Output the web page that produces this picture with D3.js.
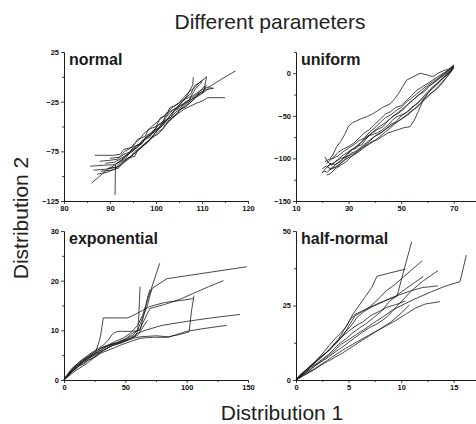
<!DOCTYPE html>
<html>
<head>
<meta charset="utf-8">
<script src="https://cdn.jsdelivr.net/npm/d3@7"></script>
<style>
  body { margin: 0; background: #fff; }
  svg { display: block; font-family: "Liberation Sans", Arial, sans-serif; }
</style>
</head>
<body>
<div id="chart"></div>
<script>
// panel names
const panelNames = ["normal", "uniform", "exponential", "half-normal"];

// axis ticks (major labelled, minor unlabelled)
const normalXTicks = [80, 90, 100, 110, 120];
const normalXMinor = [85, 95, 105, 115];
const normalYTicks = [25, -25, -75, -125];
const normalYMinor = [0, -50, -100];
const uniformXTicks = [10, 30, 50, 70];
const uniformXMinor = [20, 40, 60, 80];
const uniformYTicks = [0, -50, -100, -150];
const uniformYMinor = [25, -25, -75, -125];
const expXTicks = [0, 50, 100, 150];
const expXMinor = [25, 75, 125];
const expYTicks = [0, 10, 20, 30];
const expYMinor = [5, 15, 25];
const halfXTicks = [0, 5, 10, 15];
const halfXMinor = [2.5, 7.5, 12.5, 17.5];
const halfYTicks = [0, 25, 50];
const halfYMinor = [12.5, 37.5];

// quantile pairs, one array per simulated run
const normalLines = [
  [[86.0,-107],[88,-99],[89.5,-93],[91,-89],[92.5,-83],[94,-78],[95,-72],[96.5,-67],[98,-60],[99,-56],[100.5,-49],[102,-42],[103,-36],[104.5,-31],[106,-24],[107,-17],[108,-8],[108.1,-0.4]],
  [[91.1,-119],[91.2,-88],[92.6,-84],[93.4,-79],[95,-75],[95.8,-69],[97.2,-66],[98,-59],[99.6,-55],[100.2,-49],[101.5,-46],[102.2,-37],[103.8,-33],[105,-29],[106.2,-22],[107.6,-17],[108.4,-9],[110,-4],[111,0]],
  [[86.7,-79],[90.7,-79],[92.2,-78],[93,-73],[94.8,-71],[96,-63],[97.6,-60],[98.4,-53],[100,-50],[101,-41],[102.3,-39],[103,-31],[104.6,-28],[106,-23],[108,-19],[110,-13],[112,-9],[114,-3],[117.3,6]],
  [[85.7,-90],[88.5,-89],[91,-88.5],[92,-86],[93.6,-81],[94.6,-74],[96,-71],[97,-64],[98.6,-61],[99.4,-54],[101,-51],[101.8,-44],[103.2,-41],[104,-34],[105.4,-31],[106.4,-25],[107.6,-23],[109,-19],[110.6,-15],[111.5,-11],[112.5,-11.5]],
  [[86.4,-94],[89,-93],[91.5,-91],[92.8,-87],[94,-83],[95.2,-78],[96.4,-73],[97.4,-69],[98.4,-64],[99.6,-60],[100.6,-55],[101.6,-52],[102.6,-46],[103.6,-41],[104.8,-37],[106,-33],[107.2,-30],[108.6,-27],[110.2,-24],[111.2,-21],[115,-21]],
  [[87.8,-85],[90,-84],[91.6,-83],[93,-78],[94.2,-76],[95.2,-70],[96.8,-68],[97.6,-62],[99,-58],[100,-53],[101.2,-50],[102,-45],[103.4,-40],[104.4,-35],[105.6,-32],[106.8,-28],[108,-24],[109.2,-17],[110.4,-14],[111,0]],
  [[89.6,-92],[91.4,-91],[92.4,-86],[93.8,-82],[95.4,-80],[96,-74],[97,-70],[98.2,-66],[99,-61],[100.4,-58],[101.4,-53],[102,-48],[103,-44],[104.2,-39],[105.2,-33],[106.6,-30],[107.4,-26],[108.6,-21],[109.6,-16],[110.8,-13],[112.5,-11.5]],
  [[88,-95],[90.2,-94],[91.8,-92],[93.2,-85],[94.2,-81],[95.6,-76],[96.6,-71],[97.8,-66],[98.8,-63],[99.8,-56],[100.8,-52],[102,-46.5],[103,-43],[104,-39],[105,-35],[106,-29],[107,-26],[108,-22],[109,-20],[110.2,-16],[111,-8]],
  [[90,-82],[92,-81],[93.2,-75],[94.4,-72],[95.6,-66],[96.6,-62],[97.4,-57],[98.6,-52],[99.6,-48],[100.6,-44],[101.6,-40],[102.6,-35],[103.8,-30],[105,-26],[106.2,-20],[107.2,-15],[108.4,-11],[109.4,-6],[110.2,-3]],
  [[89,-87],[91,-86],[92.8,-81],[94,-77],[95,-74],[96.2,-70],[97.2,-65],[98,-61],[99.2,-57],[100.4,-53],[101.2,-47],[102.4,-43],[103.2,-38],[104.2,-33],[105.2,-29],[106.4,-26],[107.8,-21],[108.8,-18],[110,-12],[110.6,-9]],
  [[87.2,-98],[89.4,-96],[91,-93],[92.2,-89],[93.2,-84],[94.6,-80],[95.4,-75],[96.4,-72],[97.6,-68],[98.8,-62],[100,-56],[101,-49],[102.2,-44],[103.4,-37],[104.4,-32],[105.8,-28],[107,-25],[107.8,-18],[108.6,-12],[109.4,-8],[110,-5]]
];

const uniformLines = [
  [[22.9,-100],[24,-96],[25.5,-86],[27,-80],[28.5,-72],[30,-62],[31.5,-58],[33,-56],[35,-53],[36.9,-51],[39,-48],[41,-44],[43,-40],[45.8,-36],[47.5,-30],[49,-24],[50.5,-16],[52.1,-8],[54,-5],[57.2,0],[60,-2],[62,-4],[64,0],[66,3],[68,5],[70,8]],
  [[21.7,-119.5],[23,-118],[25,-112],[27,-108],[29,-104],[31,-98],[33,-93],[35,-88],[37,-84],[39,-80],[41,-78],[43,-74],[45,-70],[47,-68],[49,-66],[51,-64],[53.4,-62.7],[55,-55],[56.5,-45],[58.4,-31.4],[60,-24],[62,-18],[64,-12],[66,-6],[68,0],[70,6]],
  [[19.8,-117.5],[21,-113],[22.5,-108],[24,-106],[26,-101],[28,-96],[30,-92],[32,-88],[34,-83],[36,-78],[38,-72],[40,-67],[42,-62],[44,-58],[46,-53],[48,-48],[50,-43],[52,-38],[54,-33],[56,-27],[58,-22],[60,-16],[62,-12],[64,-7],[66,-2],[68,3],[70,9]],
  [[21,-98],[22,-104],[23.5,-108],[25,-104],[27,-100],[29,-98],[31,-91],[33,-86],[35,-84],[37,-76],[39,-70],[41,-66],[43,-63],[45,-56],[47,-50],[49,-47],[51,-42],[53,-35],[55,-30],[57,-25],[59,-21],[61,-14],[63,-10],[65,-5],[67,-1],[69,4],[70,7]],
  [[20.5,-115],[22,-116],[24,-110],[26,-105],[28,-100],[30,-97],[32,-94],[34,-90],[36,-85],[38,-80],[40,-74],[42,-71],[44,-66],[46,-60],[48,-57],[50,-50],[52,-46],[54,-40],[56,-36],[58,-29],[60,-22],[62,-16],[64,-11],[66,-5],[68,1],[70,8]],
  [[22,-110],[23,-106],[25,-107],[27,-104],[29,-96],[31,-90],[33,-88],[35,-80],[37,-74],[39,-72],[41,-70],[43,-66],[45,-61],[47,-54],[49,-50],[51,-48],[53,-44],[55,-38],[57,-33],[59,-28],[61,-20],[63,-14],[65,-8],[67,-3],[69,3],[70,9]],
  [[21.5,-106],[23,-102],[24.5,-98],[26,-93],[28,-89],[30,-86],[32,-82],[34,-76],[36,-70],[38,-66],[40,-60],[42,-54],[44,-48],[46,-45],[48,-40],[50,-38],[52,-32],[54,-26],[56,-20],[58,-16],[60,-12],[62,-8],[64,-4],[66,0],[68,4],[70,10]],
  [[22.5,-113],[24,-112],[26,-109],[28,-103],[30,-99],[32,-96],[34,-92],[36,-87],[38,-83],[40,-79],[42,-74],[44,-69],[46,-64],[48,-58],[50,-54],[52,-49],[54,-44],[56,-40],[58,-34],[60,-28],[62,-22],[64,-16],[66,-9],[68,-2],[70,6]],
  [[20,-112],[21.5,-109],[23,-112],[25,-110],[27,-106],[29,-100],[31,-94],[33,-91],[35,-86],[37,-81],[39,-76],[41,-72],[43,-68],[45,-64],[47,-60],[49,-56],[51,-52],[53,-48],[55,-42],[57,-36],[59,-30],[61,-24],[63,-20],[65,-14],[67,-6],[69,2],[70,7]],
  [[21,-104],[22.5,-101],[24,-100],[26,-97],[28,-92],[30,-88],[32,-84],[34,-79],[36,-76],[38,-69],[40,-64],[42,-58],[44,-52],[46,-49],[48,-44],[50,-40],[52,-34],[54,-29],[56,-24],[58,-19],[60,-14],[62,-10],[64,-6],[66,-1],[68,3],[70,8]]
];

const exponentialLines = [
  [[0,0],[2,0.6],[4,1.3],[7,2.2],[10,2.9],[14,3.6],[18,4.4],[22,5.2],[27,6],[32,6.7],[38,7.2],[45,7.6],[52,8.2],[58,8.8],[60,9.8],[61,13],[62,18.8]],
  [[0,0],[2,0.8],[5,1.5],[8,2.4],[12,3.2],[16,4],[20,4.6],[25,5.4],[30,6.4],[36,7],[42,7.8],[48,8.4],[54,9.4],[60,11],[64,13],[68,16],[72,19],[78,23.5]],
  [[0,0],[3,0.9],[6,1.8],[10,2.6],[14,3.4],[19,4.3],[24,5],[29,5.8],[35,6.8],[42,7.4],[50,8.2],[56,9],[60,10],[64,12.5],[68,15],[70,17],[72,18.5],[84,20.4],[149,22.8]],
  [[0,0],[2,0.5],[5,1.2],[9,2.3],[13,3.1],[17,3.9],[22,4.8],[27,5.6],[32,6.4],[38,7.1],[44,7.6],[50,8.3],[56,9.4],[62,10.3],[66,12.4],[70,14.4],[82,15.2],[95,16.3],[105,17.4],[118,18.8],[130,20]],
  [[0,0],[3,0.8],[6,1.6],[10,2.5],[15,3.6],[20,4.3],[26,5.2],[32,6],[38,6.8],[45,7.4],[52,8],[58,8.5],[62,8.7],[75,8.9],[85,8.7],[95,9.2],[102,9.7],[104,14],[106,17]],
  [[0,0],[2,0.7],[5,1.4],[9,2.1],[13,3],[18,3.8],[23,4.4],[28,5.3],[34,6.2],[40,7],[47,7.6],[54,8.4],[60,9.4],[66,10],[80,11],[100,11.8],[120,12.5],[143.5,13.2]],
  [[0,0],[3,0.6],[6,1.2],[10,2],[14,2.6],[19,3.4],[24,4.4],[30,5.4],[36,6],[42,6.6],[48,7.2],[55,7.8],[62,8.4],[72,8.6],[85,8.6],[100,9.8],[115,10.4],[132.6,11]],
  [[0,0],[2,0.9],[5,1.9],[8,2.7],[12,3.5],[16,4.2],[21,4.9],[26,5.8],[29,8],[30,9.2],[32,12.5],[44,12.5],[52,12.5],[58,13.2],[64,14],[70,14.8],[82,15.6],[95,16],[105.4,16.4]],
  [[0,0],[3,1],[6,2],[9,2.8],[13,3.8],[17,4.5],[22,5.4],[27,6.2],[32,7],[36,8],[40,9.4],[44,9.8],[56,9.8],[62,10],[64,12],[66,14],[68,16.5],[70,18.2]],
  [[0,0],[1.5,0.5],[4,1.1],[8,2],[12,2.8],[16,3.2],[20,4],[25,4.6],[30,5.6],[35,6.4],[40,7],[46,7.4],[50,7.8],[55,8.4],[60,9],[64,10.5],[68,12]]
];

const halfNormalLines = [
  [[0,0],[0.3,1.2],[0.7,2.4],[1.1,3.5],[1.6,5],[2.1,6.6],[2.6,8.2],[3.1,10],[3.6,12],[4.1,14],[4.6,17],[5.1,20],[5.6,22],[6.2,23],[6.8,24],[7.4,25],[8,26],[8.8,27],[9.6,28],[10.2,36],[11,46.4]],
  [[0,0],[0.4,1],[0.9,2.2],[1.4,3.5],[1.9,5],[2.5,6.6],[3.1,8.2],[3.7,10],[4.3,12],[5,13.5],[5.7,15.2],[6.5,17],[7.3,19],[8.2,21],[9.2,23.5],[10.3,25.5],[11.5,27.5],[12.8,29.5],[14.2,31.5],[15.6,33],[16.2,41.9]],
  [[0,0],[0.3,1.5],[0.8,3],[1.2,4.2],[1.7,5.6],[2.2,7.2],[2.8,9],[3.3,10.6],[3.9,12.6],[4.5,15],[5,18],[5.6,21.5],[6.3,23],[7,24.5],[7.8,27],[8.6,30],[9.4,32],[10.2,34.5],[11,37],[12,40]],
  [[0,0],[0.5,1.4],[1,2.6],[1.5,4],[2,5.2],[2.6,6.6],[3.2,8],[3.8,9.6],[4.4,11],[5,12.6],[5.6,14.2],[6.3,16],[7,17.6],[7.8,19],[8.6,21],[9.4,24],[10.2,27],[11,30],[12,33],[13.5,36.7]],
  [[0,0],[0.4,1.6],[0.9,3.2],[1.3,4.6],[1.8,6],[2.3,7.6],[2.9,9.2],[3.4,11],[4,13],[4.6,15.8],[5.2,18],[5.8,21],[6.4,22.8],[7.2,24.5],[8,25.8],[9,27.5],[10,28.8],[11,30],[12,31],[13.5,31.6]],
  [[0,0],[0.5,1.1],[1,2.2],[1.6,3.4],[2.2,4.8],[2.8,6.2],[3.4,7.6],[4,9],[4.7,10.6],[5.4,12],[6.1,13.4],[6.9,15],[7.7,16.5],[8.6,18.2],[9.5,20],[10.4,22],[11.3,24],[12.3,25.5],[13.7,26.3]],
  [[0,0],[0.6,1.2],[1.2,2.4],[1.8,3.6],[2.4,5],[3,6.2],[3.7,7.6],[4.4,9],[5.1,10.6],[5.8,12.2],[6.6,14],[7.4,15.8],[8.2,17.6],[9,19.4],[9.8,21.8],[10.8,25.2]],
  [[0,0],[0.3,1],[0.7,2.4],[1.2,4],[1.7,5.8],[2.2,7.6],[2.7,9.6],[3.2,11.8],[3.7,13.8],[4.2,15.6],[4.8,18],[5.4,22],[6,25],[6.6,28],[7.2,31],[7.7,34.8],[9,36],[10.4,37.2]],
  [[0,0],[0.4,1.3],[0.9,2.6],[1.4,4.2],[2,5.6],[2.5,7],[3.1,8.6],[3.6,10.4],[4.2,12.4],[4.8,14],[5.4,15.8],[6,17.4],[6.7,19],[7.4,21],[8.1,23],[8.8,26],[9.6,28.5],[10.4,30.5],[11.2,32.5],[12.1,34.7]],
  [[0,0],[0.5,1.8],[1,3.4],[1.5,5],[2,6.8],[2.6,8.4],[3.2,10],[3.8,12.6],[4.4,14.6],[5,16.4],[5.7,18.2],[6.4,19.6],[7.1,21.6],[7.9,23],[8.7,24.5],[9.6,25.4],[10.4,26.5]]
];

const width = 476, height = 424;
const panelW = 184, panelH = 149;

const panels = [
  { name: panelNames[0], left: 64,  top: 52,  xDom: [80, 120], yDom: [-125, 25], xt: normalXTicks, xm: normalXMinor, yt: normalYTicks, ym: normalYMinor, lines: normalLines },
  { name: panelNames[1], left: 296, top: 52,  xDom: [10, 80],  yDom: [-150, 25], xt: uniformXTicks, xm: uniformXMinor, yt: uniformYTicks, ym: uniformYMinor, lines: uniformLines },
  { name: panelNames[2], left: 64,  top: 231, xDom: [0, 150],  yDom: [0, 30],    xt: expXTicks, xm: expXMinor, yt: expYTicks, ym: expYMinor, lines: exponentialLines },
  { name: panelNames[3], left: 296, top: 231, xDom: [0, 17.5], yDom: [0, 50],    xt: halfXTicks, xm: halfXMinor, yt: halfYTicks, ym: halfYMinor, lines: halfNormalLines }
];

const svg = d3.select("#chart").append("svg")
  .attr("width", width)
  .attr("height", height);

panels.forEach(p => {
  const g = svg.append("g").attr("transform", `translate(${p.left},${p.top})`);
  const x = d3.scaleLinear().domain(p.xDom).range([0, panelW]);
  const y = d3.scaleLinear().domain(p.yDom).range([panelH, 0]);

  const line = d3.line().x(d => x(d[0])).y(d => y(d[1]));
  g.append("g").selectAll("path")
    .data(p.lines)
    .enter().append("path")
      .attr("d", line)
      .attr("fill", "none")
      .attr("stroke", "#1a1a1a")
      .attr("stroke-width", 0.8)
      .attr("stroke-linejoin", "round");

  // minor ticks first, then major with labels
  g.append("g").attr("transform", `translate(0,${panelH})`)
    .call(d3.axisBottom(x).tickValues(p.xm).tickSize(2).tickSizeOuter(0).tickFormat(""));
  g.append("g").attr("transform", `translate(0,${panelH})`)
    .call(d3.axisBottom(x).tickValues(p.xt).tickSize(3).tickSizeOuter(0).tickPadding(2).tickFormat(d3.format("")));
  g.append("g")
    .call(d3.axisLeft(y).tickValues(p.ym).tickSize(2).tickSizeOuter(0).tickFormat(""));
  g.append("g")
    .call(d3.axisLeft(y).tickValues(p.yt).tickSize(3).tickSizeOuter(0).tickPadding(2).tickFormat(d3.format("")));

  g.append("text")
    .attr("x", 5)
    .attr("y", 13)
    .attr("font-size", 16)
    .attr("font-weight", "bold")
    .attr("fill", "#1a1a1a")
    .text(p.name);
});

svg.selectAll(".domain").attr("stroke", "#111").attr("stroke-width", 0.8);
svg.selectAll(".tick line").attr("stroke", "#111").attr("stroke-width", 0.8);
svg.selectAll(".tick text")
  .attr("font-size", 7.5)
  .attr("font-weight", "bold")
  .attr("font-family", "Liberation Sans, Arial, sans-serif")
  .attr("fill", "#111");

svg.append("text")
  .attr("x", 270).attr("y", 29)
  .attr("text-anchor", "middle")
  .attr("font-size", 21)
  .attr("fill", "#222")
  .text("Different parameters");

svg.append("text")
  .attr("x", 282).attr("y", 420)
  .attr("text-anchor", "middle")
  .attr("font-size", 21)
  .attr("fill", "#222")
  .text("Distribution 1");

svg.append("text")
  .attr("transform", "translate(28,218) rotate(-90)")
  .attr("text-anchor", "middle")
  .attr("font-size", 21)
  .attr("fill", "#222")
  .text("Distribution 2");
</script>
</body>
</html>
